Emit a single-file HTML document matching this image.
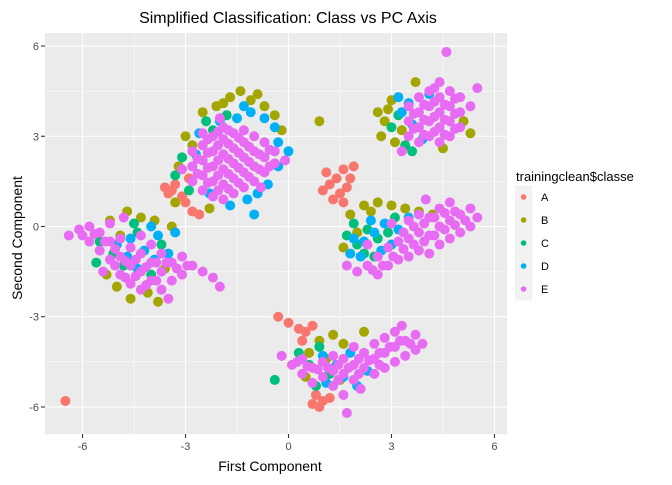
<!DOCTYPE html>
<html><head><meta charset="utf-8"><style>
body{margin:0;background:#fff;font-family:"Liberation Sans",Arial,sans-serif}
svg text{font-family:"Liberation Sans",Arial,sans-serif}
</style></head><body>
<svg id="c" width="672" height="480" xmlns="http://www.w3.org/2000/svg">
<rect width="672" height="480" fill="#fff"/>
<text x="288" y="23" font-size="16" text-anchor="middle" fill="#000">Simplified Classification: Class vs PC Axis</text>
<text x="270" y="471" font-size="14" text-anchor="middle" fill="#000">First Component</text>
<text x="22" y="238" font-size="14" text-anchor="middle" fill="#000" transform="rotate(-90 22 238)">Second Component</text>
<g id="panel"></g>
<g id="legend">
<text x="516" y="181" font-size="13" fill="#000">trainingclean$classe</text>
</g>
</svg>
<script>
const classes=["A","B","C","D","E"];
const colors=["#F8766D","#A3A500","#00BF7D","#00B0F6","#E76BF3"];
const xTicks=[-6,-3,0,3,6];
const yTicks=[-6,-3,0,3,6];
const ptsA="-3.6,1.3;-3.4,1.2;-3.3,1.4;-3.1,1.0;-3.0,0.8;-2.8,0.5;-2.9,1.6;-2.6,0.4;-3.5,1.1;1.0,1.2;1.2,1.4;1.4,1.6;1.5,1.1;1.7,1.3;1.3,0.9;1.6,1.9;1.8,1.6;1.1,1.8;1.9,2.0;1.6,0.8;-0.3,-3.0;0,-3.2;0.3,-3.4;0.5,-3.5;0.7,-3.3;0.4,-3.8;0.8,-5.6;1.0,-5.8;0.9,-6.0;1.2,-5.7;0.7,-5.9;-6.5,-5.8";
const ptsB="-2.5,3.8;-2.1,4.0;-1.7,4.3;-1.4,4.5;-1.1,4.2;-0.7,4.0;-0.4,3.7;-0.2,3.2;-3.0,3.0;-2.8,2.7;-3.2,2.0;-3.3,0.8;0.9,3.5;-2.3,0.6;-1.9,4.1;-0.9,4.4;2.6,3.8;2.8,3.5;2.7,3.0;3.0,4.2;3.1,2.8;3.3,3.2;2.9,3.9;5.1,3.5;5.3,3.1;4.5,2.6;3.7,4.8;-5.2,0.2;-4.7,0.5;-4.3,0.3;-3.9,0.2;-3.4,0.0;-5.3,-1.6;-5.0,-2.0;-4.6,-2.4;-4.1,-2.2;-3.8,-2.5;-3.6,-1.4;-4.9,-0.3;1.8,0.4;2.2,0.7;2.6,0.8;3.0,0.7;3.4,0.6;3.8,0.5;4.2,0.4;2.0,-0.2;2.4,0.5;1.6,-0.7;0.9,-3.8;1.3,-3.6;1.6,-3.9;0.6,-4.2;1.1,-4.4;1.5,-5.1;2.2,-3.5;0.5,-5.0";
const ptsC="-3.3,1.7;-3.1,2.3;-2.4,3.5;-1.8,3.7;-2.9,1.2;-2.2,3.2;3.0,3.3;3.4,2.7;3.2,3.7;3.6,2.5;-5.5,-0.5;-5.1,-0.9;-4.8,-1.3;-4.4,-0.2;-4.0,-1.6;-4.5,0.1;-3.7,-0.6;-5.6,-1.2;1.7,-0.3;2.0,-0.6;2.3,-0.1;2.6,-0.4;1.9,0.1;2.5,-1.0;2.9,-0.2;2.2,-0.9;3.1,0.3;0.3,-4.2;0.6,-4.6;0.9,-4.0;1.2,-4.9;-0.4,-5.1;0.8,-5.3";
const ptsD="-1.5,3.6;-1.1,3.8;-0.7,3.6;-0.4,3.3;-1.3,4.0;-2.0,3.5;-2.6,3.1;-0.3,2.8;0.0,2.5;-0.6,1.4;-1.2,0.9;-1.7,0.7;-2.3,1.1;-0.9,1.1;-1.0,0.4;-0.3,2.0;-2.7,2.4;3.3,3.8;3.5,4.1;3.6,3.4;3.9,2.9;4.1,4.4;3.2,4.3;-4.6,-0.4;-4.2,-0.8;-3.8,-0.3;-3.9,-1.1;-4.4,-1.4;-3.5,-0.9;-5.0,-0.6;-4.0,0.0;-3.3,-0.2;-4.7,-1.0;1.9,-0.4;2.2,-0.5;2.5,-0.2;2.8,0.1;2.1,-1.0;2.7,-0.8;3.2,-0.1;3.5,0.3;1.8,-0.9;2.4,0.2;3.0,-0.6;1.0,-4.3;1.4,-4.6;1.8,-4.2;1.6,-5.0;2.3,-4.8;1.1,-5.2;2.0,-5.3";
const ptsE="-2.8,1.5;-2.8,2.0;-2.8,2.5;-2.5,1.2;-2.5,1.7;-2.5,2.2;-2.5,2.7;-2.5,3.1;-2.2,1.0;-2.2,1.5;-2.2,2.0;-2.2,2.5;-2.2,3.0;-1.9,0.9;-1.9,1.4;-1.9,1.9;-1.9,2.4;-1.9,2.9;-1.9,3.3;-1.6,1.1;-1.6,1.6;-1.6,2.1;-1.6,2.6;-1.6,3.1;-1.3,1.3;-1.3,1.8;-1.3,2.3;-1.3,2.8;-1.3,3.2;-1.0,1.5;-1.0,2.0;-1.0,2.5;-1.0,3.0;-0.7,1.8;-0.7,2.3;-0.7,2.8;-0.4,2.1;-0.4,2.5;-0.1,2.2;-2.0,3.6;-3.1,1.9;-0.8,1.3;"+
"-2.65,1.75;-2.65,2.25;-2.35,1.45;-2.35,1.95;-2.35,2.45;-2.35,2.9;-2.05,1.2;-2.05,1.7;-2.05,2.2;-2.05,2.7;-2.05,3.15;-1.75,1.25;-1.75,1.75;-1.75,2.25;-1.75,2.75;-1.75,3.2;-1.45,1.45;-1.45,1.95;-1.45,2.45;-1.45,2.95;-1.15,1.65;-1.15,2.15;-1.15,2.65;-0.85,1.9;-0.85,2.4;-0.55,2.0;-0.55,2.55;"+
"3.5,3.0;3.5,3.5;3.5,4.0;3.8,2.8;3.8,3.3;3.8,3.8;3.8,4.3;4.1,3.0;4.1,3.5;4.1,4.0;4.1,4.5;4.4,2.8;4.4,3.3;4.4,3.8;4.4,4.3;4.4,4.8;4.7,3.0;4.7,3.5;4.7,4.0;4.7,4.5;5.0,3.3;5.0,3.8;5.0,4.3;5.3,4.0;4.6,5.8;5.5,4.6;3.3,2.5;"+
"3.65,3.25;3.65,3.75;3.95,3.05;3.95,3.55;3.95,4.05;4.25,3.15;4.25,3.65;4.25,4.15;4.55,3.05;4.55,3.55;4.55,4.05;4.85,3.25;4.85,3.75;4.85,4.25;4.25,4.6;"+
"-6.4,-0.3;-6.1,-0.1;-5.8,-0.5;-5.8,0.0;-5.5,-0.8;-5.5,-0.2;-5.2,-1.1;-5.2,-0.5;-5.2,0.1;-4.9,-1.6;-4.9,-1.0;-4.9,-0.4;-4.6,-1.9;-4.6,-1.3;-4.6,-0.7;-4.3,-2.1;-4.3,-1.5;-4.3,-0.9;-4.3,-0.3;-4.0,-1.8;-4.0,-1.2;-4.0,-0.6;-3.7,-1.5;-3.7,-0.9;-3.7,-2.1;-3.4,-1.2;-3.4,-1.8;-3.1,-1.0;-3.1,-1.6;-2.8,-1.3;-2.5,-1.5;-2.2,-1.7;-2.0,-2.0;-5.4,-1.5;-3.5,-2.4;-4.8,0.3;"+
"-5.65,-0.25;-5.35,-0.5;-5.05,-0.75;-5.05,-1.3;-4.75,-1.15;-4.75,-1.7;-4.45,-1.1;-4.45,-1.65;-4.15,-1.35;-4.15,-1.95;-3.85,-1.2;-3.85,-1.8;-3.55,-1.2;-3.25,-1.4;-2.95,-1.3;-6.0,-0.3;"+
"1.7,-1.3;2.0,-1.5;2.3,-1.3;2.6,-1.6;2.6,-1.0;2.9,-1.3;2.9,-0.7;3.2,-1.1;3.2,-0.5;3.5,-1.0;3.5,-0.4;3.5,0.2;3.8,-0.8;3.8,-0.2;3.8,0.4;4.1,-0.9;4.1,-0.3;4.1,0.3;4.4,-0.6;4.4,0.0;4.4,0.6;4.7,-0.4;4.7,0.2;4.7,0.8;5.0,-0.2;5.0,0.4;5.3,0.0;5.3,0.6;5.5,0.3;2.3,-0.6;3.0,0.1;4.0,0.9;"+
"3.05,-1.0;3.35,-0.75;3.35,-0.2;3.65,-0.6;3.65,0.0;3.95,-0.5;3.95,0.1;4.25,-0.3;4.25,0.3;4.55,-0.1;4.55,0.45;4.85,0.05;4.85,0.5;5.15,0.2;2.75,-1.3;2.45,-1.45;"+
"-0.2,-4.3;0.1,-4.6;0.4,-4.4;0.4,-4.9;0.7,-4.7;0.7,-5.2;1.0,-4.5;1.0,-5.0;1.3,-4.3;1.3,-4.8;1.3,-5.3;1.6,-4.4;1.6,-4.9;1.9,-4.0;1.9,-4.6;1.9,-5.1;2.2,-4.2;2.2,-4.7;2.5,-3.9;2.5,-4.4;2.5,-4.9;2.8,-3.7;2.8,-4.2;2.8,-4.7;3.1,-3.5;3.1,-4.0;3.1,-4.5;3.4,-3.8;3.4,-4.3;3.7,-3.6;3.7,-4.1;3.9,-3.9;3.3,-3.3;1.6,-5.6;2.1,-5.4;1.7,-6.2;"+
"0.55,-4.65;0.85,-4.75;1.15,-4.7;1.45,-4.6;1.75,-4.7;2.05,-4.4;2.35,-4.45;2.65,-4.2;2.95,-4.0;3.25,-3.8;3.55,-3.9;2.05,-4.9;2.65,-4.6;1.45,-5.1;0.25,-4.5";
const series=[ptsA,ptsB,ptsC,ptsD,ptsE];

const NS="http://www.w3.org/2000/svg";
const L=45,R=507,T=33,B=434;
const sx=v=>288.5+34.33*v;
const sy=v=>226.5-30.08*v;
const panel=document.getElementById('panel');
function mk(tag,a,p){const e=document.createElementNS(NS,tag);for(const k in a)e.setAttribute(k,a[k]);(p||panel).appendChild(e);return e;}
const bg=mk('rect',{x:L,y:T,width:R-L,height:B-T,fill:'#EBEBEB'});


for(let i=0;i<xTicks.length-1;i++){
  const m=(xTicks[i]+xTicks[i+1])/2;mk('line',{x1:sx(m),x2:sx(m),y1:T,y2:B,stroke:'#fff','stroke-width':0.5});
  const n=(yTicks[i]+yTicks[i+1])/2;mk('line',{x1:L,x2:R,y1:sy(n),y2:sy(n),stroke:'#fff','stroke-width':0.5});
}
xTicks.forEach(t=>{
  const g=mk('line',{x1:sx(t),x2:sx(t),y1:T,y2:B,stroke:'#fff','stroke-width':1.1});
  
  
  mk('line',{x1:sx(t),x2:sx(t),y1:B,y2:B+4,stroke:'#333','stroke-width':1.1});
  const tx=mk('text',{x:sx(t),y:B+16,'font-size':11,'text-anchor':'middle',fill:'#4D4D4D'});
  tx.textContent=t;
  
  
});
yTicks.forEach(t=>{
  const g=mk('line',{x1:L,x2:R,y1:sy(t),y2:sy(t),stroke:'#fff','stroke-width':1.1});
  
  
  mk('line',{x1:L-4,x2:L,y1:sy(t),y2:sy(t),stroke:'#333','stroke-width':1.1});
  const tx=mk('text',{x:L-6,y:sy(t)+4,'font-size':11,'text-anchor':'end',fill:'#4D4D4D'});
  tx.textContent=t;
  
  
});
series.forEach((s,i)=>{
  const g=mk('g',{});
  
  
  s.split(';').forEach(p=>{
    const [x,y]=p.split(',').map(Number);
    const c=mk('circle',{cx:sx(x),cy:sy(y),r:5,fill:colors[i]},g);
    
    
  });
});
const leg=document.getElementById('legend');
classes.forEach((c,i)=>{
  const y=197+i*23;
  const g=mk('g',{},leg);
  
  
  mk('rect',{x:515,y:y-11.5,width:17.3,height:23,fill:'#F2F2F2'},g);
  mk('circle',{cx:523.6,cy:y,r:2.8,fill:colors[i]},g);
  const t=mk('text',{x:541,y:y+4,'font-size':11,fill:'#000'},g);
  t.textContent=c;
});
</script>
</body></html>
